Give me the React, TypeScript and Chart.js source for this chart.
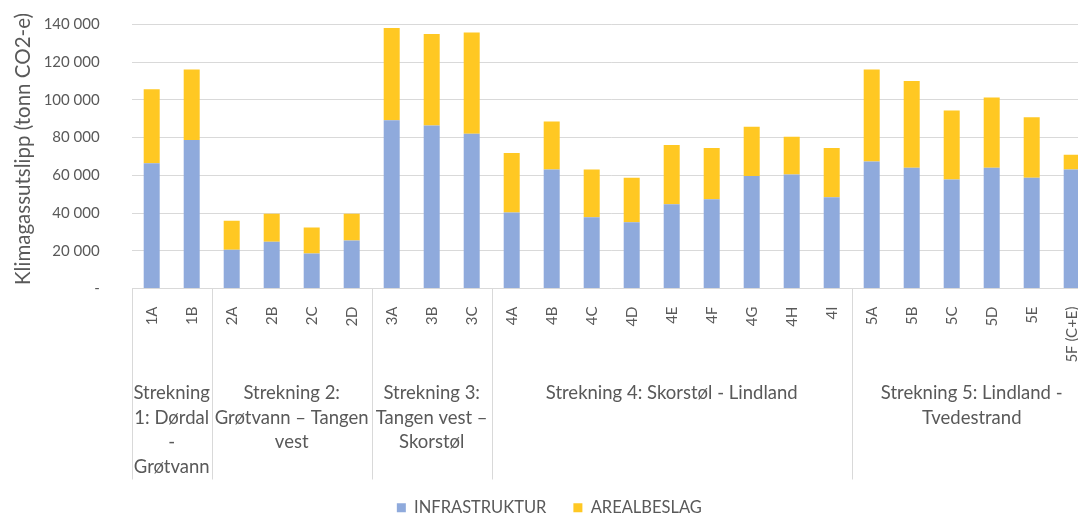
import React, { useEffect, useRef } from "react";
import { Chart, registerables } from "chart.js";

Chart.register(...registerables);

const categories = [
  "1A", "1B",
  "2A", "2B", "2C", "2D",
  "3A", "3B", "3C",
  "4A", "4B", "4C", "4D", "4E", "4F", "4G", "4H", "4I",
  "5A", "5B", "5C", "5D", "5E", "5F (C+E)",
];

const infrastruktur = [
  66400, 78800,
  20500, 24800, 18600, 25500,
  89200, 86500, 82100,
  40300, 63100, 37800, 35100, 44700, 47300, 59700, 60500, 48400,
  67300, 64000, 57800, 64000, 58700, 63100,
];

const arealbeslag = [
  39300, 37300,
  15400, 14800, 13700, 14100,
  49000, 48400, 53600,
  31500, 25400, 25300, 23600, 31400, 27200, 26100, 20000, 26100,
  48800, 46100, 36600, 37300, 32100, 7800,
];

const groupLabels = [
  ["Strekning", "1: Dørdal", "-", "Grøtvann"],
  ["Strekning 2:", "Grøtvann – Tangen", "vest"],
  ["Strekning 3:", "Tangen vest –", "Skorstøl"],
  ["Strekning 4: Skorstøl - Lindland"],
  ["Strekning 5: Lindland -", "Tvedestrand"],
];
const groupSizes = [2, 4, 3, 9, 6];

const seriesNames = ["INFRASTRUKTUR", "AREALBESLAG"];
const yMin = 0;
const yMax = 140000;
const yStep = 20000;
const yTitle = "Klimagassutslipp (tonn CO2-e)";

const TEXT = "#595959";
const GRID = "#D9D9D9";
const BLUE = "#8FAADC";
const GOLD = "#FFC823";

function fmt(v: number): string {
  if (v === 0) return "-";
  return String(v).replace(/\B(?=(\d{3})+(?!\d))/g, " ");
}

const groupPlugin = {
  id: "groupLabels",
  afterDraw(chart: any) {
    const ctx = chart.ctx;
    const xs = chart.scales.x;
    const area = chart.chartArea;
    const n = categories.length;
    const w = (xs.right - xs.left) / n;
    const bounds: number[] = [xs.left];
    let idx = 0;
    groupSizes.forEach((s) => {
      idx += s;
      bounds.push(xs.left + idx * w);
    });
    ctx.save();
    ctx.strokeStyle = GRID;
    ctx.lineWidth = 1;
    bounds.forEach((b) => {
      const px = Math.round(b) + 0.5;
      ctx.beginPath();
      ctx.moveTo(px, area.bottom);
      ctx.lineTo(px, area.bottom + 191);
      ctx.stroke();
    });
    ctx.fillStyle = TEXT;
    ctx.font = "18.5px Lato";
    ctx.textAlign = "center";
    ctx.textBaseline = "middle";
    groupLabels.forEach((lines, g) => {
      const cx = (bounds[g] + bounds[g + 1]) / 2;
      lines.forEach((t, i) => {
        ctx.fillText(t, cx, area.bottom + 105 + i * 24.4);
      });
    });
    // y-axis title
    ctx.save();
    ctx.translate(23.5, (area.top + area.bottom) / 2 - 7.5);
    ctx.rotate(-Math.PI / 2);
    ctx.font = "20.5px Lato";
    ctx.fillText(yTitle, 0, 0);
    ctx.restore();
    ctx.restore();
  },
};

export default function App() {
  const ref = useRef<HTMLCanvasElement | null>(null);

  useEffect(() => {
    if (!ref.current) return;
    const chart = new Chart(ref.current, {
      type: "bar",
      data: {
        labels: categories,
        datasets: [
          {
            label: seriesNames[0],
            data: infrastruktur,
            backgroundColor: BLUE,
            barPercentage: 0.4,
            categoryPercentage: 1,
          },
          {
            label: seriesNames[1],
            data: arealbeslag,
            backgroundColor: GOLD,
            barPercentage: 0.4,
            categoryPercentage: 1,
          },
        ],
      },
      options: {
        responsive: false,
        animation: false,
        devicePixelRatio: 1,
        layout: { padding: { left: 7, right: 3.3, top: 24.5, bottom: 0 } },
        plugins: {
          tooltip: { enabled: false },
          legend: {
            position: "bottom",
            labels: {
              boxWidth: 9,
              boxHeight: 9,
              padding: 27,
              color: TEXT,
              font: { family: "Lato", size: 16.5 },
            },
          },
        },
        scales: {
          x: {
            stacked: true,
            grid: { display: false },
            border: { display: false },
            ticks: {
              autoSkip: false,
              minRotation: 90,
              maxRotation: 90,
              padding: 10,
              color: TEXT,
              font: { family: "Lato", size: 15 },
            },
            afterFit(scale: any) {
              scale.height = 184;
              scale.paddingLeft = 0;
              scale.paddingRight = 0;
            },
          },
          y: {
            stacked: true,
            min: yMin,
            max: yMax,
            grid: { color: GRID, drawTicks: false },
            border: { display: false },
            ticks: {
              stepSize: yStep,
              padding: 32,
              color: TEXT,
              font: { family: "Lato", size: 15 },
              callback: (v: any) => fmt(Number(v)),
            },
            title: { display: false },
            afterFit(scale: any) {
              scale.width = 124.7;
              scale.paddingTop = 0;
              scale.paddingBottom = 0;
            },
          },
        },
      },
      plugins: [groupPlugin],
    } as any);
    return () => chart.destroy();
  }, []);

  return (
    <div
      style={{
        position: "fixed",
        left: 0,
        top: 0,
        width: 1078,
        height: 515,
        overflow: "hidden",
        background: "#fff",
      }}
    >
      <canvas ref={ref} width={1095} height={526} style={{ display: "block" }} />
    </div>
  );
}
